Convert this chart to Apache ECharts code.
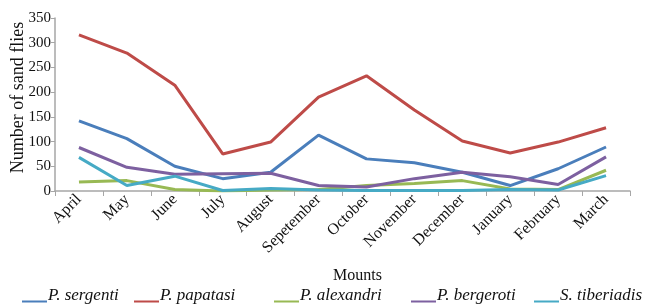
<!DOCTYPE html>
<html>
<head>
<meta charset="utf-8">
<script src="https://cdn.jsdelivr.net/npm/echarts@6/dist/echarts.min.js"></script>
<style>
  html, body { margin: 0; padding: 0; background: #fff; }
  #main { width: 652px; height: 305px; }
</style>
</head>
<body>
<div id="main"></div>
<script>
// months on the x axis
var months = ["April", "May", "June", "July", "August", "Sepetember", "October",
  "November", "December", "January", "February", "March"];

// counts per species
var sergenti   = [142, 106, 50, 25, 38, 113, 65, 57, 38, 11, 45, 89];
var papatasi   = [316, 279, 214, 75, 99, 190, 233, 164, 101, 77, 99, 128];
var alexandri  = [18, 21, 3, 0, 2, 3, 11, 15, 21, 4, 3, 42];
var bergeroti  = [88, 48, 34, 35, 36, 11, 8, 25, 38, 29, 13, 69];
var tiberiadis = [68, 11, 30, 1, 5, 2, 1, 1, 1, 3, 2, 31];

var names = ["P. sergenti", "P. papatasi", "P. alexandri", "P. bergeroti", "S. tiberiadis"];
var colors = ["#4a7ebb", "#be4b48", "#98b954", "#7d60a0", "#46aac5"];
var values = [sergenti, papatasi, alexandri, bergeroti, tiberiadis];
var legendLeft = [22, 134, 274, 411, 534];

var serif = "Liberation Serif";

var chart = echarts.init(document.getElementById("main"));

// legend line sits at the bottom of the text: tiny dot at top keeps the box tall
var lowLine = "path://M0,0 L0.01,0 L0.01,0.01 Z M0,12 L25,12 L25,14 L0,14 Z";

// one legend per item so spacing can follow the picture
var legends = names.map(function (n, i) {
  return {
    data: [n],
    left: legendLeft[i],
    top: 287,
    padding: 0,
    icon: lowLine,
    itemWidth: 25,
    itemHeight: 14,
    itemGap: 0,
    textStyle: { fontFamily: serif, fontStyle: "italic", fontSize: 17, color: "#111", padding: [0, 0, 0, -4] }
  };
});

chart.setOption({
  animation: false,
  grid: { left: 55, right: 22, top: 18, bottom: 114, outerBoundsMode: "none" },
  legend: legends,
  xAxis: {
    type: "category",
    data: months,
    boundaryGap: true,
    name: "Mounts",
    nameLocation: "middle",
    nameGap: 77,
    nameMoveOverlap: false,
    nameTextStyle: { fontFamily: serif, fontSize: 16, color: "#111", padding: [0, 0, 0, 30] },
    axisLine: { lineStyle: { color: "#a6a6a6", width: 1.5 } },
    axisTick: { show: true, length: 5, lineStyle: { color: "#a6a6a6" } },
    axisLabel: { rotate: 45, fontFamily: serif, fontSize: 16, color: "#111", margin: 6 }
  },
  yAxis: {
    type: "value",
    min: 0,
    max: 350,
    interval: 50,
    name: "Number of sand flies",
    nameLocation: "middle",
    nameGap: 28,
    nameMoveOverlap: false,
    nameTextStyle: { fontFamily: serif, fontSize: 18, color: "#111", padding: [0, 0, 0, 14] },
    splitLine: { show: false },
    axisLine: { show: true, lineStyle: { color: "#a6a6a6", width: 1.5 } },
    axisTick: { show: true, length: 4, lineStyle: { color: "#a6a6a6" } },
    axisLabel: { fontFamily: serif, fontSize: 15, color: "#111", margin: 4 }
  },
  series: names.map(function (n, i) {
    return {
      name: n,
      type: "line",
      data: values[i],
      symbol: "none",
      color: colors[i],
      lineStyle: { width: 3 }
    };
  })
});
</script>
</body>
</html>
